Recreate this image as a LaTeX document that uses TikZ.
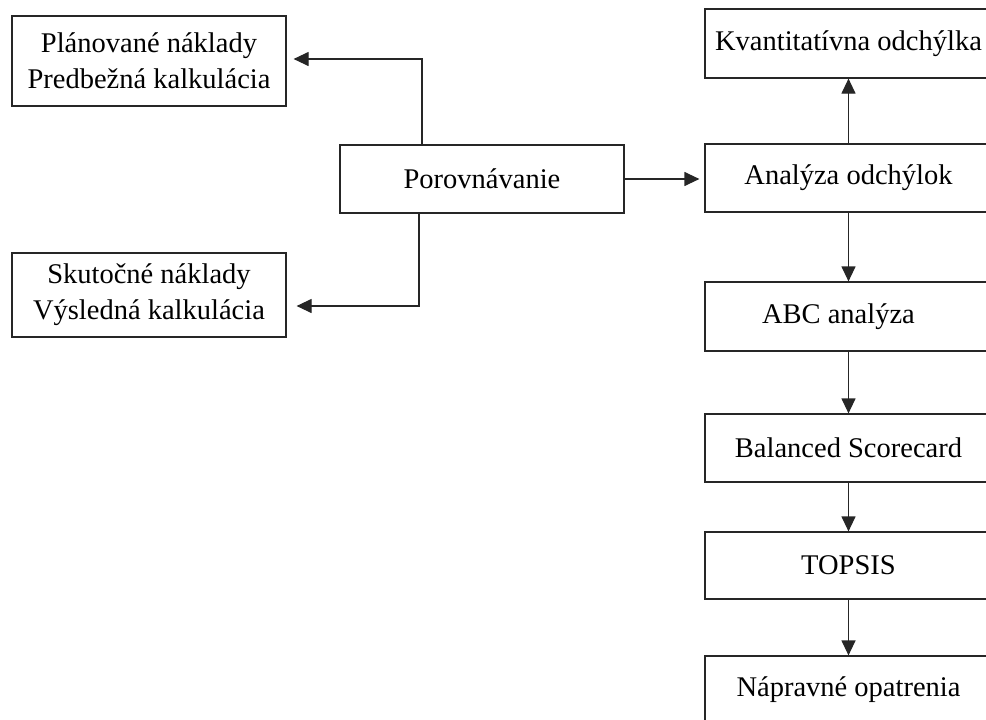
\documentclass[tikz,border=0pt]{standalone}
\usepackage{fontspec}
\setmainfont{Liberation Serif}
\usetikzlibrary{arrows.meta,calc}
\begin{document}
\begin{tikzpicture}[x=1pt,y=-1pt,
  box/.style={draw=black!85,line width=1.2pt,rectangle,inner sep=0pt,
    font=\fontsize{28.5}{36}\selectfont,align=center},
  flow/.style={draw=black!85,line width=1.2pt,
    -{Triangle[length=15pt,width=14pt]}}]
\clip (0,0) rectangle (986,720);
\useasboundingbox (0,0) rectangle (986,720);

% left column
\node[box,minimum width=274pt,minimum height=90pt] (plan) at (149,61)
  {Plánované náklady\\Predbežná kalkulácia};
\node[box,minimum width=274pt,minimum height=84pt] (skut) at (149,295)
  {Skutočné náklady\\Výsledná kalkulácia};

% comparison
\node[box,minimum width=284pt,minimum height=68pt] (porov) at (482,179)
  {Porovnávanie};

% right column
\node[box,minimum width=287pt,minimum height=69pt] (kvant) at (848.5,43.5)
  {Kvantitatívna odchýlka};
\node[box,minimum width=287pt,minimum height=68pt] (anal) at (848.5,178)
  {Analýza odchýlok};
\node[box,minimum width=287pt,minimum height=69pt] (abc) at (848.5,316.5)
  {\hspace*{-20pt}ABC analýza};
\node[box,minimum width=287pt,minimum height=68pt] (bsc) at (848.5,448)
  {Balanced Scorecard};
\node[box,minimum width=287pt,minimum height=67pt] (topsis) at (848.5,565.5)
  {TOPSIS};
\node[box,minimum width=287pt,minimum height=68pt] (naprav) at (848.5,690)
  {Nápravné opatrenia};

% bends of the left connectors
\coordinate (b1) at (422,59);
\coordinate (b2) at (419,306);

\draw[flow,shorten >=7pt] (porov.north -| b1) -- (b1) -- (b1 -| plan.east);
\draw[flow,shorten >=10pt] (porov.south -| b2) -- (b2) -- (b2 -| skut.east);
\draw[flow,shorten >=5pt] (porov.east) -- (porov.east -| anal.west);

\draw[flow] (anal.north) -- (kvant.south);
\draw[flow] (anal.south) -- (abc.north);
\draw[flow] (abc.south) -- (bsc.north);
\draw[flow] (bsc.south) -- (topsis.north);
\draw[flow] (topsis.south) -- (naprav.north);
\end{tikzpicture}
\end{document}
